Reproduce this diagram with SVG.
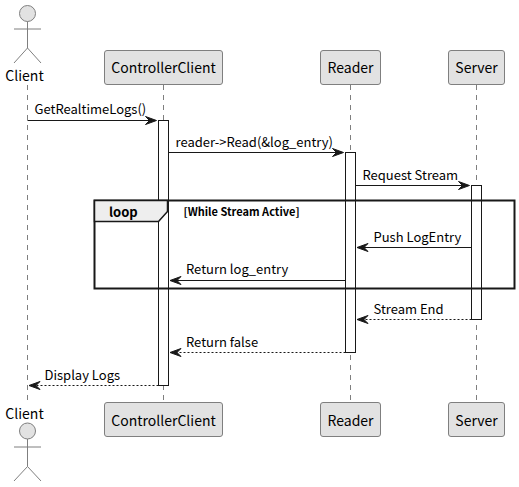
<svg xmlns="http://www.w3.org/2000/svg" width="519" height="487" viewBox="0 0 519 487">
<style>
text{font-family:"Noto Sans CJK SC","Noto Sans",sans-serif;fill:#000}
.p{font-size:14px;text-anchor:middle}
.m{font-size:13px}
.box{fill:#e2e2e2;stroke:#7f7f7f;stroke-width:1}
.act{fill:none;stroke:#7f7f7f;stroke-width:1}
.head{fill:#e2e2e2;stroke:#7f7f7f;stroke-width:1}
.life{stroke:#7f7f7f;stroke-width:1;stroke-dasharray:5 5;fill:none}
.bar{fill:#fff;stroke:#181818;stroke-width:1}
.msg{stroke:#181818;stroke-width:1;fill:none}
.dash{stroke-dasharray:2 2}
.tip{fill:#181818;stroke:#181818;stroke-width:1}
</style>
<defs>
<path id="r" class="tip" d="M0 0L-11 -4L-7 0L-11 4Z"/>
<path id="l" class="tip" d="M0 0L11 -4L7 0L11 4Z"/>
</defs>
<g id="lifelines">
<line class="life" x1="27.5" y1="85" x2="27.5" y2="400"/>
<line class="life" x1="163.5" y1="85" x2="163.5" y2="400"/>
<line class="life" x1="350.5" y1="85" x2="350.5" y2="400"/>
<line class="life" x1="476.5" y1="85" x2="476.5" y2="400"/>
</g>
<g id="activations">
<rect class="bar" x="158.5" y="120.5" width="10" height="265"/>
<rect class="bar" x="345.5" y="152.5" width="10" height="200"/>
<rect class="bar" x="471.5" y="185.5" width="10" height="134"/>
</g>
<g id="loop">
<rect x="94.5" y="200.5" width="420" height="88" fill="none" stroke="#181818" stroke-width="2"/>
<path d="M94.5 200.5H167.5V211.5L158.5 221.5H94.5Z" fill="#eeeeee" stroke="#181818" stroke-width="1.5"/>
<text x="109" y="217" font-size="13" font-weight="700">loop</text>
<text x="183.5" y="216" font-size="11" font-weight="700">[While Stream Active]</text>
</g>
<g id="connectors">
<line class="msg" x1="27.5" y1="120.5" x2="150" y2="120.5"/><use href="#r" x="156.5" y="120.5"/>
<line class="msg" x1="168.5" y1="152.5" x2="337" y2="152.5"/><use href="#r" x="343.5" y="152.5"/>
<line class="msg" x1="355.5" y1="185.5" x2="463" y2="185.5"/><use href="#r" x="469.5" y="185.5"/>
<line class="msg" x1="471.5" y1="247.5" x2="364" y2="247.5"/><use href="#l" x="357" y="247.5"/>
<line class="msg" x1="345.5" y1="280.5" x2="177" y2="280.5"/><use href="#l" x="170" y="280.5"/>
<line class="msg dash" x1="471.5" y1="319.5" x2="364" y2="319.5"/><use href="#l" x="357" y="319.5"/>
<line class="msg dash" x1="345.5" y1="352.5" x2="177" y2="352.5"/><use href="#l" x="170" y="352.5"/>
<line class="msg dash" x1="158.5" y1="385.5" x2="36" y2="385.5"/><use href="#l" x="29" y="385.5"/>
</g>
<g id="labels">
<text class="m" x="34.5" y="114">GetRealtimeLogs()</text>
<text class="m" x="175.5" y="147">reader-&gt;Read(&amp;log_entry)</text>
<text class="m" x="362.5" y="180">Request Stream</text>
<text class="m" x="373.5" y="242">Push LogEntry</text>
<text class="m" x="186" y="274">Return log_entry</text>
<text class="m" x="373.5" y="314">Stream End</text>
<text class="m" x="186" y="347">Return false</text>
<text class="m" x="44.5" y="380">Display Logs</text>
</g>
<g id="client-top">
<circle class="head" cx="27.500" cy="13.5" r="8"/>
<path class="act" d="M27.5 21.5V48M14 29H41M14 63L27.5 48L41 63"/>
<text class="p" x="24.5" y="81">Client</text>
</g>
<g id="controller-top"><rect class="box" x="104.5" y="50.5" width="118" height="34" rx="2.5"/><text class="p" x="163.5" y="73">ControllerClient</text></g>
<g id="reader-top"><rect class="box" x="320.5" y="50.5" width="60" height="34" rx="2.5"/><text class="p" x="350.5" y="73">Reader</text></g>
<g id="server-top"><rect class="box" x="448.5" y="50.5" width="56" height="34" rx="2.5"/><text class="p" x="476.5" y="73">Server</text></g>
<g id="client-bottom">
<text class="p" x="24.5" y="419">Client</text>
<circle class="head" cx="27.5" cy="431" r="8"/>
<path class="act" d="M27.5 439V466.500M14 447H41M14 481L27.500 466.500L41 481"/>
</g>
<g id="controller-bottom"><rect class="box" x="104.5" y="402.500" width="118" height="34" rx="2.5"/><text class="p" x="163.5" y="426">ControllerClient</text></g>
<g id="reader-bottom"><rect class="box" x="320.5" y="402.500" width="60" height="34" rx="2.5"/><text class="p" x="350.5" y="426">Reader</text></g>
<g id="server-bottom"><rect class="box" x="448.5" y="402.500" width="56" height="34" rx="2.5"/><text class="p" x="476.5" y="426">Server</text></g>
</svg>
